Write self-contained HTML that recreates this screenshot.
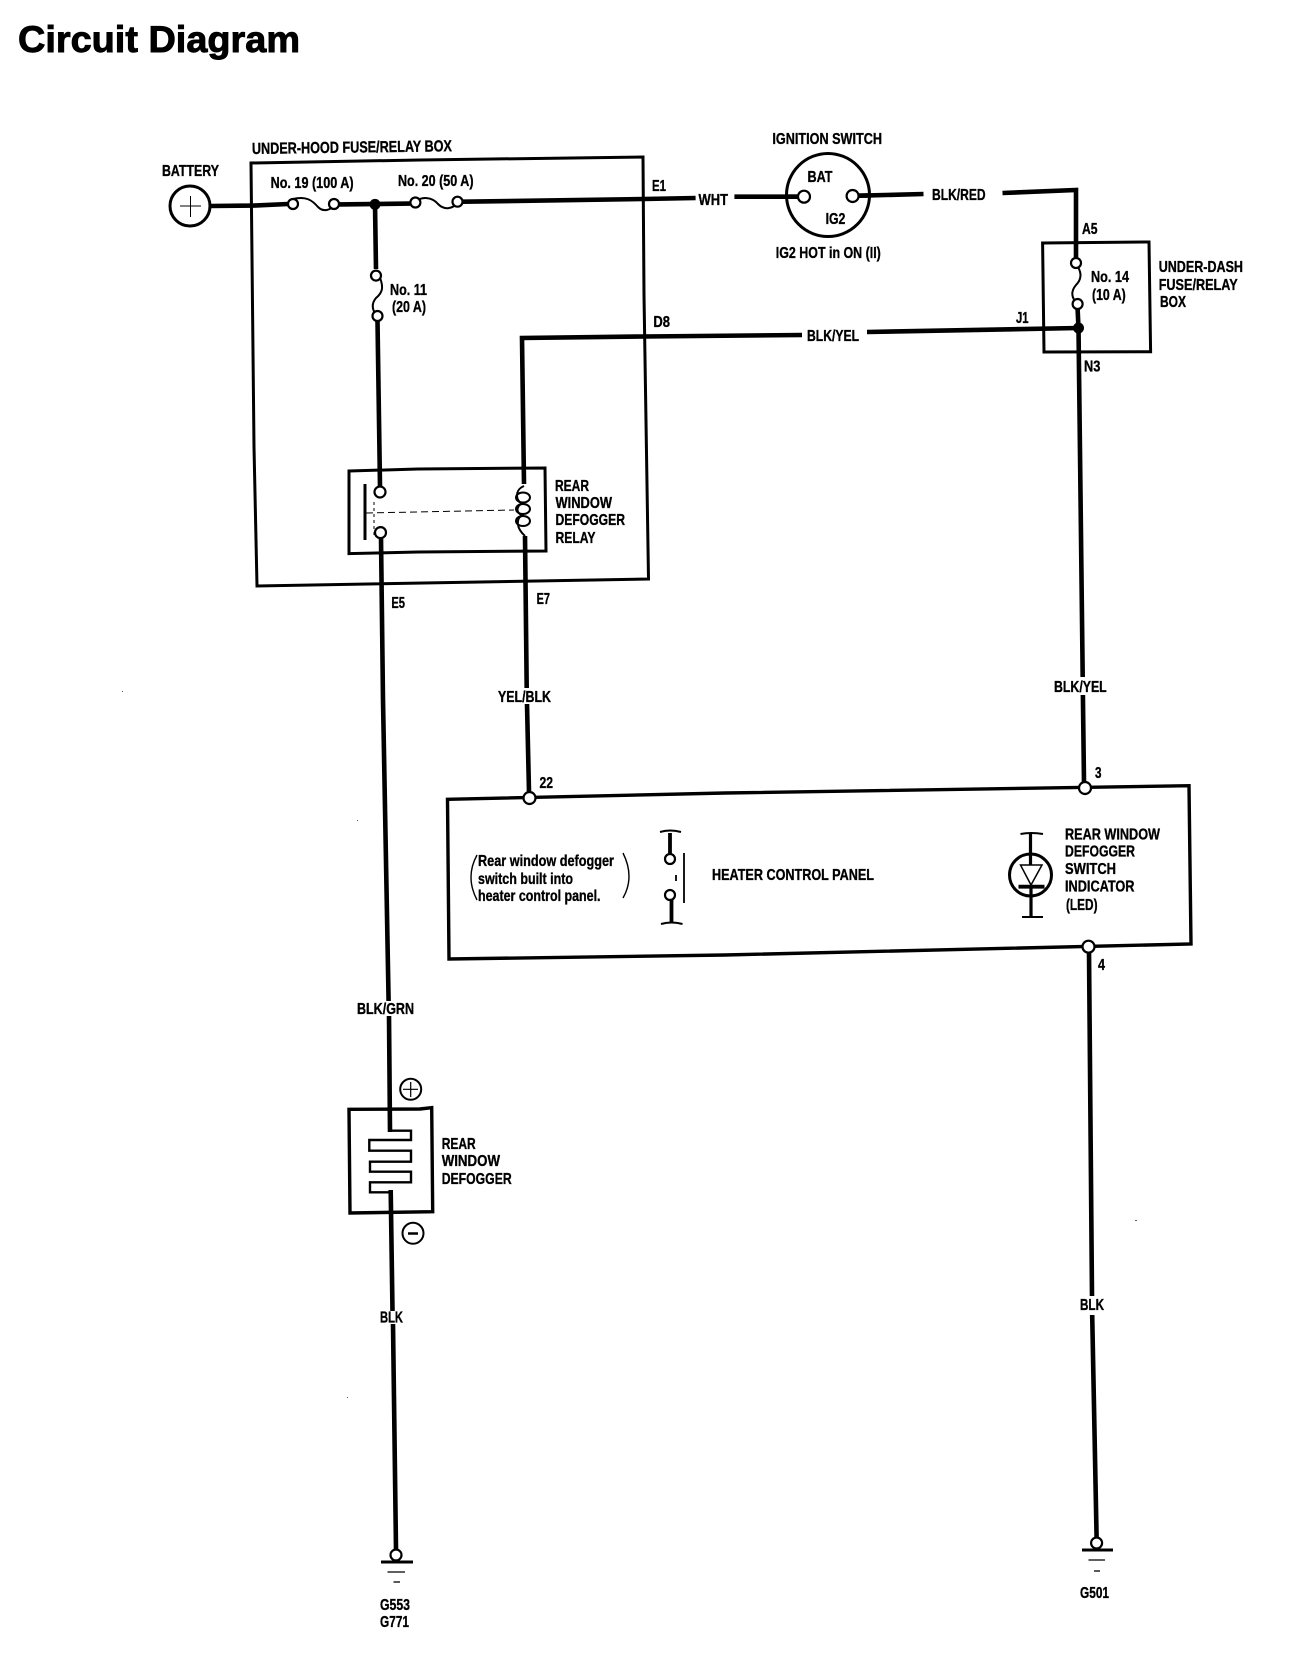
<!DOCTYPE html>
<html><head><meta charset="utf-8"><style>
html,body{margin:0;padding:0;background:#fff}
svg{display:block}
text{font-family:"Liberation Sans",sans-serif;font-weight:bold;font-size:16px;fill:#000;stroke:#000;stroke-width:.35}
.w{fill:none;stroke:#000;stroke-width:4.6}
.b{fill:none;stroke:#000;stroke-width:3}
.t{fill:#fff;stroke:#000;stroke-width:2.2}
.f{fill:none;stroke:#000;stroke-width:2}
</style></head><body>
<svg width="1312" height="1658" viewBox="0 0 1312 1658" xmlns="http://www.w3.org/2000/svg">
<rect width="1312" height="1658" fill="#fff"/>
<text x="18" y="52" style="font-size:37px;stroke-width:.9" textLength="282" lengthAdjust="spacingAndGlyphs">Circuit Diagram</text>

<!-- boxes -->
<path class="b" d="M251 163L420 160L643 157L644 295L648.5 579L257 586L254 447Z"/>
<path class="b" d="M349 471L418 469L545 468L546 551L418 552L349 553.6Z"/>
<path class="b" d="M1042.6 243L1149 242L1150.6 351.7L1044 352Z"/>
<path class="b" d="M447.5 799.3L725 793L1189 785.7L1191 944L725 955L449 959Z" style="stroke-width:3.4"/>
<path class="b" d="M349 1109.3L420 1109L431.7 1107.7L432.7 1211.7L350 1213Z" style="stroke-width:3.4"/>

<!-- wires -->
<path class="w" d="M210 206L253 205.6L288 204"/>
<path class="w" d="M339 204.4L410 203.6"/>
<path class="w" d="M463 201.7L644 199L695.6 198"/>
<path class="w" d="M734.4 196.7L800 196.7"/>
<path class="w" d="M859 195.7L923.5 194"/>
<path class="w" d="M1002.5 193L1076 190L1076 258"/>
<path class="w" d="M1077.6 309L1078.5 328L1082.7 677"/>
<path class="w" d="M1082.9 695L1084 782"/>
<path class="w" d="M375 204L376 269"/>
<path class="w" d="M377.5 321L380 486"/>
<path class="w" d="M381 538L383 700L388.6 1001"/>
<path class="w" d="M389 1016L390 1132"/>
<path class="w" d="M390.7 1190L392.5 1311"/>
<path class="w" d="M393 1324L396 1549"/>
<path class="w" d="M524 484L522 338L644 336.5L802 335"/>
<path class="w" d="M867 332L1078.5 328"/>
<path class="w" d="M525 536L526.7 688"/>
<path class="w" d="M527 704L529 792"/>
<path class="w" d="M1089 952L1092 1296"/>
<path class="w" d="M1092.2 1315L1096.6 1538"/>
<circle cx="375" cy="204.4" r="5.5"/>
<circle cx="1078.5" cy="328" r="5.5"/>

<!-- battery -->
<circle cx="190" cy="206" r="20" fill="#fff" stroke="#000" stroke-width="3"/>
<path d="M180 206H201M190.5 196V217" stroke="#000" stroke-width="1" fill="none"/>

<!-- fuses -->
<path class="f" d="M293 199C306 196 312 200 318 207C323 212 331 211 334 204"/>
<circle class="t" cx="293" cy="204" r="5"/><circle class="t" cx="334" cy="204" r="5"/>
<path class="f" d="M415 202C422 196 432 197 438 204C444 210 452 210 458 202"/>
<circle class="t" cx="415.4" cy="202.5" r="5"/><circle class="t" cx="457.5" cy="201.7" r="5"/>
<path class="f" d="M380 278C384 288 382 293 376 298C371 304 372 310 377 316"/>
<circle class="t" cx="376" cy="275.6" r="5"/><circle class="t" cx="377.5" cy="316" r="5"/>
<path class="f" d="M1078 267C1082 274 1081 280 1076 285C1070 292 1072 298 1077 304"/>
<circle class="t" cx="1076" cy="263" r="5"/><circle class="t" cx="1077.6" cy="304" r="5"/>

<!-- ignition switch -->
<circle cx="828" cy="195" r="41.5" fill="none" stroke="#000" stroke-width="3"/>
<path class="w" d="M787 196.7L800 196.7M859 195.7L870 195.5"/>
<circle class="t" cx="804" cy="196.7" r="6"/><circle class="t" cx="852.6" cy="196" r="6"/>

<!-- relay -->
<path d="M365 484V540" stroke="#000" stroke-width="3"/>
<path d="M374 502V538" stroke="#000" stroke-width="1" stroke-dasharray="3 3"/>
<path d="M366 513L514 510" stroke="#000" stroke-width="1" stroke-dasharray="7 4" fill="none"/>
<circle class="t" cx="380" cy="492" r="5.5"/><circle class="t" cx="380.5" cy="532.6" r="5.5"/>
<path class="f" d="M524 486C514 490 516 502 522 503C516 507 516 513 522 515C516 519 516 528 525 536"/>
<ellipse class="f" cx="523" cy="497.5" rx="7" ry="5"/>
<ellipse class="f" cx="523" cy="509" rx="7" ry="5"/>
<ellipse class="f" cx="523" cy="521" rx="7" ry="5"/>

<!-- panel terminals -->
<circle class="t" cx="529.5" cy="798" r="6"/>
<circle class="t" cx="1085" cy="788" r="6"/>
<circle class="t" cx="1088.5" cy="946.7" r="6"/>

<!-- parens -->
<path class="f" style="stroke-width:1.4" d="M477 855Q465 877 477 900"/>
<path class="f" style="stroke-width:1.4" d="M623 853Q635 877 623 898"/>

<!-- switch symbol -->
<path class="w" d="M670 833V854M671.5 900V923" style="stroke-width:3.8"/>
<path d="M660 832Q670 829 681 832M661 924Q671.5 921 682.5 924" stroke="#000" stroke-width="2" fill="none"/>
<circle class="t" cx="670" cy="859" r="5"/><circle class="t" cx="670" cy="895" r="5"/>
<path d="M684 853V903M676 875V881" stroke="#000" stroke-width="1.8" fill="none"/>

<!-- LED -->
<circle cx="1030.5" cy="875" r="21" fill="none" stroke="#000" stroke-width="3"/>
<path d="M1030.5 834V865M1031 886V917" stroke="#000" stroke-width="3.2" fill="none"/>
<path d="M1020.5 834Q1031 832 1043 834M1022 917H1043" stroke="#000" stroke-width="2" fill="none"/>
<path d="M1020.5 865H1042L1031 885Z" fill="#fff" stroke="#000" stroke-width="1.5"/>
<path d="M1018.5 886.7H1044.5" stroke="#000" stroke-width="3.8"/>

<!-- defogger -->
<path class="b" style="stroke-width:2.4" d="M390 1130.7H411V1140H369.3V1150.7H411V1161.7H370V1171.7H411V1182.3H370V1192.3H390.7"/>
<circle cx="410.7" cy="1089.3" r="10.5" fill="none" stroke="#000" stroke-width="2"/>
<path d="M403 1089.3H418M410.7 1082V1097" stroke="#000" stroke-width="1.2"/>
<circle cx="413" cy="1233.3" r="10.5" fill="none" stroke="#000" stroke-width="2"/>
<path d="M408 1233.5H418" stroke="#000" stroke-width="2.5"/>

<!-- grounds -->
<circle class="t" cx="396" cy="1555" r="5.5"/>
<path d="M381 1562H413" stroke="#000" stroke-width="3"/>
<path d="M387.5 1572H405" stroke="#000" stroke-width="1.3"/>
<path d="M393.5 1582H400" stroke="#000" stroke-width="1.3"/>
<circle class="t" cx="1096.6" cy="1543" r="5.5"/>
<path d="M1082 1550H1113" stroke="#000" stroke-width="3"/>
<path d="M1088.5 1560H1105" stroke="#000" stroke-width="1.3"/>
<path d="M1094 1571H1100" stroke="#000" stroke-width="1.3"/>

<!-- specks -->
<g fill="#555"><rect x="122" y="691" width="1" height="1"/><rect x="357" y="820" width="1" height="1"/><rect x="1135" y="1220" width="2" height="1"/><rect x="347" y="1397" width="1" height="1"/></g>

<!-- labels -->
<text x="252" y="154" textLength="200" lengthAdjust="spacingAndGlyphs" transform="rotate(-0.8 252 154)">UNDER-HOOD FUSE/RELAY BOX</text>
<text x="162" y="176" textLength="57" lengthAdjust="spacingAndGlyphs">BATTERY</text>
<text x="270.6" y="188" textLength="83" lengthAdjust="spacingAndGlyphs">No. 19 (100 A)</text>
<text x="398" y="186" textLength="75.5" lengthAdjust="spacingAndGlyphs">No. 20 (50 A)</text>
<text x="390" y="295" textLength="37" lengthAdjust="spacingAndGlyphs">No. 11</text>
<text x="392" y="312" textLength="34" lengthAdjust="spacingAndGlyphs">(20 A)</text>
<text x="555" y="491" textLength="34" lengthAdjust="spacingAndGlyphs">REAR</text>
<text x="555.5" y="508" textLength="56.5" lengthAdjust="spacingAndGlyphs">WINDOW</text>
<text x="555.5" y="525" textLength="69.5" lengthAdjust="spacingAndGlyphs">DEFOGGER</text>
<text x="555.5" y="543" textLength="40" lengthAdjust="spacingAndGlyphs">RELAY</text>
<text x="391.4" y="608" textLength="13.6" lengthAdjust="spacingAndGlyphs">E5</text>
<text x="536.6" y="604" textLength="13.4" lengthAdjust="spacingAndGlyphs">E7</text>
<text x="652" y="191" textLength="14" lengthAdjust="spacingAndGlyphs">E1</text>
<text x="653.4" y="327" textLength="16.6" lengthAdjust="spacingAndGlyphs">D8</text>
<text x="698.5" y="205" textLength="29.5" lengthAdjust="spacingAndGlyphs">WHT</text>
<text x="772.4" y="144" textLength="109.6" lengthAdjust="spacingAndGlyphs">IGNITION SWITCH</text>
<text x="807.5" y="182" textLength="25" lengthAdjust="spacingAndGlyphs">BAT</text>
<text x="825.6" y="224" textLength="19.8" lengthAdjust="spacingAndGlyphs">IG2</text>
<text x="775.8" y="258" textLength="105" lengthAdjust="spacingAndGlyphs">IG2 HOT in ON (II)</text>
<text x="932" y="200" textLength="53.6" lengthAdjust="spacingAndGlyphs">BLK/RED</text>
<text x="1082" y="234" textLength="15.5" lengthAdjust="spacingAndGlyphs">A5</text>
<text x="1091" y="282" textLength="38" lengthAdjust="spacingAndGlyphs">No. 14</text>
<text x="1092" y="300" textLength="33.7" lengthAdjust="spacingAndGlyphs">(10 A)</text>
<text x="1158.7" y="272" textLength="84.3" lengthAdjust="spacingAndGlyphs">UNDER-DASH</text>
<text x="1158.7" y="290" textLength="79" lengthAdjust="spacingAndGlyphs">FUSE/RELAY</text>
<text x="1160" y="307" textLength="26" lengthAdjust="spacingAndGlyphs">BOX</text>
<text x="1016" y="323" textLength="12.6" lengthAdjust="spacingAndGlyphs">J1</text>
<text x="1084" y="371.7" textLength="16.4" lengthAdjust="spacingAndGlyphs">N3</text>
<text x="807" y="341" textLength="52" lengthAdjust="spacingAndGlyphs">BLK/YEL</text>
<text x="1054" y="692" textLength="52.7" lengthAdjust="spacingAndGlyphs">BLK/YEL</text>
<text x="498" y="702" textLength="53" lengthAdjust="spacingAndGlyphs">YEL/BLK</text>
<text x="357" y="1014" textLength="57" lengthAdjust="spacingAndGlyphs">BLK/GRN</text>
<text x="380" y="1322.5" textLength="23" lengthAdjust="spacingAndGlyphs">BLK</text>
<text x="1080" y="1310" textLength="24" lengthAdjust="spacingAndGlyphs">BLK</text>
<text x="539.5" y="788" textLength="13.5" lengthAdjust="spacingAndGlyphs">22</text>
<text x="1095" y="778" textLength="6.5" lengthAdjust="spacingAndGlyphs">3</text>
<text x="1098" y="970" textLength="7" lengthAdjust="spacingAndGlyphs">4</text>
<text x="478" y="866" textLength="136" lengthAdjust="spacingAndGlyphs">Rear window defogger</text>
<text x="478" y="884" textLength="95" lengthAdjust="spacingAndGlyphs">switch built into</text>
<text x="478" y="901" textLength="122.5" lengthAdjust="spacingAndGlyphs">heater control panel.</text>
<text x="712" y="880" textLength="162" lengthAdjust="spacingAndGlyphs">HEATER CONTROL PANEL</text>
<text x="1065" y="839.3" textLength="95" lengthAdjust="spacingAndGlyphs">REAR WINDOW</text>
<text x="1065" y="856.7" textLength="70" lengthAdjust="spacingAndGlyphs">DEFOGGER</text>
<text x="1065" y="874" textLength="51" lengthAdjust="spacingAndGlyphs">SWITCH</text>
<text x="1065" y="891.7" textLength="69.5" lengthAdjust="spacingAndGlyphs">INDICATOR</text>
<text x="1066" y="910" textLength="31.5" lengthAdjust="spacingAndGlyphs">(LED)</text>
<text x="441.7" y="1149" textLength="34" lengthAdjust="spacingAndGlyphs">REAR</text>
<text x="441.7" y="1166" textLength="58.3" lengthAdjust="spacingAndGlyphs">WINDOW</text>
<text x="441.7" y="1184" textLength="70" lengthAdjust="spacingAndGlyphs">DEFOGGER</text>
<text x="380" y="1610" textLength="30" lengthAdjust="spacingAndGlyphs">G553</text>
<text x="380" y="1627" textLength="29" lengthAdjust="spacingAndGlyphs">G771</text>
<text x="1080" y="1598" textLength="29" lengthAdjust="spacingAndGlyphs">G501</text>
</svg>
</body></html>
